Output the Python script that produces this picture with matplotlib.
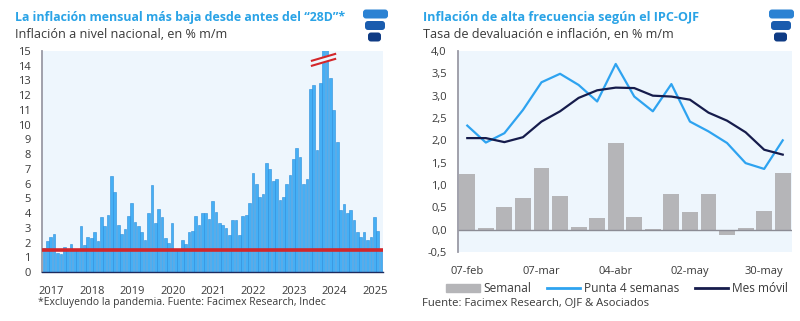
import matplotlib
matplotlib.use("Agg")
import matplotlib.pyplot as plt
from matplotlib.patches import FancyBboxPatch, Rectangle
from matplotlib.lines import Line2D

plt.rcParams["font.family"] = ["Open Sans", "DejaVu Sans"]

# monthly inflation, national level, % m/m (Jan 2017 - May 2025)
inflacion = [
    1.6, 2.1, 2.4, 2.6, 1.3, 1.2, 1.7, 1.4, 1.9, 1.5, 1.4, 3.1,   # 2017
    1.8, 2.4, 2.3, 2.7, 2.1, 3.7, 3.1, 3.9, 6.5, 5.4, 3.2, 2.6,   # 2018
    2.9, 3.8, 4.7, 3.4, 3.1, 2.7, 2.2, 4.0, 5.9, 3.3, 4.3, 3.7,   # 2019
    2.3, 2.0, 3.3, 1.5, 1.5, 2.2, 1.9, 2.7, 2.8, 3.8, 3.2, 4.0,   # 2020
    4.0, 3.6, 4.8, 4.1, 3.3, 3.2, 3.0, 2.5, 3.5, 3.5, 2.5, 3.8,   # 2021
    3.9, 4.7, 6.7, 6.0, 5.1, 5.3, 7.4, 7.0, 6.2, 6.3, 4.9, 5.1,   # 2022
    6.0, 6.6, 7.7, 8.4, 7.8, 6.0, 6.3, 12.4, 12.7, 8.3, 12.8, 25.5,  # 2023
    20.6, 13.2, 11.0, 8.8, 4.2, 4.6, 4.0, 4.2, 3.5, 2.7, 2.4, 2.7,  # 2024
    2.2, 2.4, 3.7, 2.8, 1.5,                                      # 2025
]
years = ["2017", "2018", "2019", "2020", "2021", "2022", "2023", "2024", "2025"]
nivel_actual = 1.5

# IPC-OJF weekly
semanas = ["07-feb", "14-feb", "21-feb", "28-feb", "07-mar", "14-mar", "21-mar", "28-mar",
           "04-abr", "11-abr", "18-abr", "25-abr", "02-may", "09-may", "16-may", "23-may",
           "30-may", "06-jun"]
semanal = [1.25, 0.04, 0.51, 0.72, 1.39, 0.75, 0.07, 0.26, 1.93, 0.28, 0.02, 0.79,
           0.39, 0.79, -0.13, 0.03, 0.41, 1.26]
punta4 = [2.33, 1.95, 2.16, 2.68, 3.30, 3.49, 3.24, 2.87, 3.71, 2.98, 2.65, 3.26,
          2.42, 2.20, 1.94, 1.49, 1.36, 2.00]
mes_movil = [2.05, 2.05, 1.96, 2.07, 2.42, 2.65, 2.95, 3.12, 3.18, 3.17, 3.00, 2.98,
             2.91, 2.62, 2.44, 2.18, 1.79, 1.68]

title_blue = "#2aa3e6"
text_dark = "#3a3a3a"
bg = "#eef6fd"
light_blue = "#2ea3f0"
navy = "#161c4c"

fig = plt.figure(figsize=(8, 3.21), dpi=100)
renderer = fig.canvas.get_renderer()


def fit_text(x, y, s, width, **kw):
    # place text at pixel coords and scale the font so it spans `width` pixels
    t = fig.text(x / 800, 1 - y / 321, s, va="center", **kw)
    w = t.get_window_extent(renderer=renderer).width
    t.set_fontsize(t.get_fontsize() * width / w)
    return t


def logo(x0, y0):
    lax = fig.add_axes([x0 / 800, 1 - (y0 + 34) / 321, 30 / 800, 34 / 321])
    lax.set_xlim(0, 30)
    lax.set_ylim(34, 0)
    lax.axis("off")
    shapes = [(1, 0.5, 25, 9, "#2b82d3"), (3, 12, 20, 9, "#1a5cae"), (6, 23.5, 13, 9, "#0f3b84")]
    for x, y, w, h, c in shapes:
        lax.add_patch(FancyBboxPatch((x, y), w, h, boxstyle="round,pad=0,rounding_size=3",
                                     fc=c, ec="none"))


# ---------------- left chart ----------------
fit_text(15, 17, "La inflación mensual más baja desde antes del \u201c28D\u201d*", 332,
         color=title_blue, fontsize=9, fontweight="bold")
fit_text(15, 35, "Inflación a nivel nacional, en % m/m", 213, color=text_dark, fontsize=9)
logo(362, 9)

ax1 = fig.add_axes([42 / 800, 1 - 272 / 321, 341 / 800, 221 / 321])
ax1.set_facecolor(bg)
x = list(range(len(inflacion)))
ax1.bar(x, inflacion, width=0.8, color="#45aff5", edgecolor="#2a8cdb", linewidth=0.4, zorder=2)
ax1.axhline(nivel_actual, color="#d3262a", linewidth=2.6, zorder=3)
ax1.set_xlim(-0.6, len(inflacion) - 0.4)
ax1.set_ylim(0, 15)
ax1.set_yticks(range(0, 16))
ax1.set_xticks([12 * i + 2.2 for i in range(len(years))])
ax1.set_xticklabels(years)
ax1.tick_params(length=0, labelsize=8, colors=text_dark)
ax1.tick_params(axis="x", pad=10)
ax1.tick_params(axis="y", pad=8)
for s in ["top", "right"]:
    ax1.spines[s].set_visible(False)
ax1.spines["left"].set_color("#9a9aa5")
ax1.spines["left"].set_linewidth(1.3)
ax1.spines["bottom"].set_color("#1c2b60")
ax1.spines["bottom"].set_linewidth(1.0)

# axis break marks on the truncated bars
ax1.fill([79.5, 86.4, 86.4, 79.5], [14.0, 14.46, 14.8, 14.34], color=bg, zorder=4, clip_on=False)
ax1.plot([79.5, 86.4], [14.0, 14.46], color="#d3262a", linewidth=1.5, zorder=5, clip_on=False)
ax1.plot([79.5, 86.4], [14.34, 14.8], color="#d3262a", linewidth=1.5, zorder=5, clip_on=False)

fit_text(38, 303, "*Excluyendo la pandemia. Fuente: Facimex Research, Indec", 290,
         color=text_dark, fontsize=7)

# ---------------- right chart ----------------
fit_text(423, 17, "Inflación de alta frecuencia según el IPC-OJF", 277,
         color=title_blue, fontsize=9, fontweight="bold")
fit_text(423, 35, "Tasa de devaluación e inflación, en % m/m", 252, color=text_dark, fontsize=9)
logo(768, 9)

ax2 = fig.add_axes([458 / 800, 1 - 252 / 321, 334 / 800, 201 / 321])
ax2.set_facecolor(bg)
xs = list(range(len(semanas)))
ax2.bar(xs, semanal, width=0.86, color="#b5b5b8", zorder=2, label="Semanal")
ax2.plot(xs, punta4, color=light_blue, linewidth=1.6, zorder=3, label="Punta 4 semanas")
ax2.plot(xs, mes_movil, color=navy, linewidth=1.6, zorder=3, label="Mes móvil")
ax2.axhline(0, color="#8c8c95", linewidth=1.0, zorder=2)
ax2.set_xlim(-0.5, len(semanas) - 0.5)
ax2.set_ylim(-0.5, 4.0)
yt = [-0.5 + 0.5 * i for i in range(10)]
ax2.set_yticks(yt)
ax2.set_yticklabels([f"{v:.1f}".replace(".", ",") for v in yt])
ax2.set_xticks(xs[::4])
ax2.set_xticklabels(semanas[::4])
ax2.tick_params(length=0, labelsize=8, colors=text_dark)
ax2.tick_params(axis="y", pad=8)
ax2.tick_params(axis="x", pad=10)
for s in ["top", "right", "bottom"]:
    ax2.spines[s].set_visible(False)
ax2.spines["left"].set_color("#9a9aa5")
ax2.spines["left"].set_linewidth(1.3)

handles = [Rectangle((0, 0), 1, 1, color="#b5b5b8"),
           Line2D([], [], color=light_blue, linewidth=2),
           Line2D([], [], color=navy, linewidth=2)]
fig.legend(handles, ["Semanal", "Punta 4 semanas", "Mes móvil"], loc="center",
           bbox_to_anchor=(617 / 800, 1 - 289 / 321), ncol=3, frameon=False,
           fontsize=8.6, handlelength=2.8, handleheight=0.6, columnspacing=1.3,
           handletextpad=0.3, labelcolor=text_dark)

fit_text(422, 303, "Fuente: Facimex Research, OJF & Asociados", 228,
         color=text_dark, fontsize=7)

fig.savefig("out.png", dpi=100)
